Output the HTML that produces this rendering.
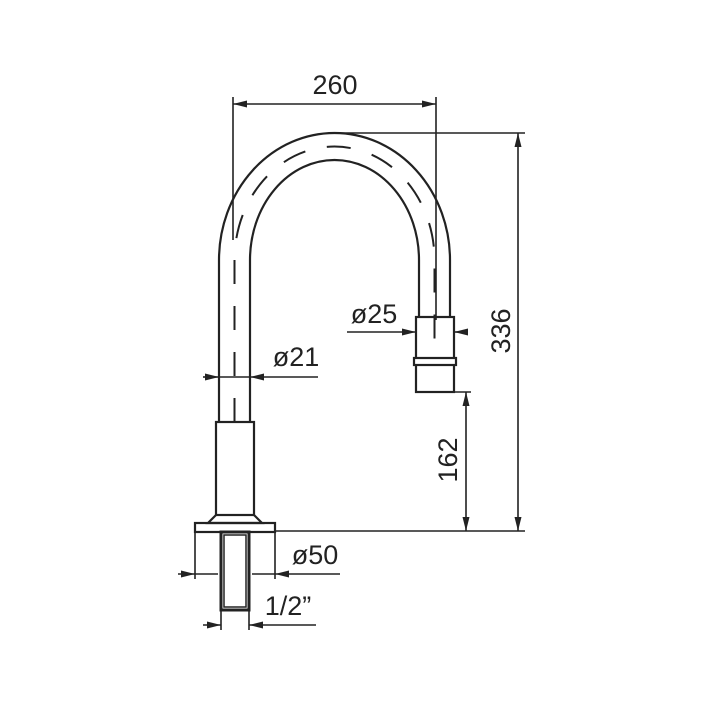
<!DOCTYPE html>
<html><head><style>html,body{margin:0;padding:0;background:#fff}svg{display:block}</style></head>
<body>
<svg width="703" height="703" viewBox="0 0 703 703" xmlns="http://www.w3.org/2000/svg">
<defs>
<marker id="a" viewBox="0 0 14 7" refX="14" refY="3.5" markerWidth="14" markerHeight="7" markerUnits="userSpaceOnUse" orient="auto-start-reverse"><path d="M0,0 L14,3.5 L0,7 Z" fill="#222"/></marker>
</defs>
<g fill="none" stroke="#222" stroke-width="2.2">
<path d="M219,422 L219,260 A115.5,127 0 0 1 450,260 L450,317"/>
<path d="M250,422 L250,260 A84.5,100 0 0 1 419,260 L419,317"/>
<path d="M234.5,422 L234.5,260 A100,113.5 0 0 1 434.5,260 L434.5,346" stroke-dasharray="24,22" stroke-width="2"/>
<rect x="416" y="317" width="38" height="75"/>
<rect x="414" y="358" width="42" height="7" fill="#fff"/>
<rect x="216" y="422" width="38" height="93"/>
<path d="M216,515 L208,523 L262,523 L254,515"/>
<rect x="195" y="523" width="80" height="9"/>
<rect x="221" y="532" width="28" height="78" stroke-width="3"/>
<rect x="224" y="535" width="22" height="72" stroke-width="1.5"/>
</g>
<g fill="none" stroke="#222" stroke-width="1.6">
<line x1="233" y1="97" x2="233" y2="240"/>
<line x1="436" y1="97" x2="436" y2="320"/>
<line x1="233" y1="104" x2="436" y2="104" marker-start="url(#a)" marker-end="url(#a)"/>
<line x1="334" y1="133" x2="525" y2="133"/>
<line x1="275" y1="531" x2="525" y2="531"/>
<line x1="518" y1="133" x2="518" y2="531" marker-start="url(#a)" marker-end="url(#a)"/>
<line x1="454" y1="392" x2="471" y2="392"/>
<line x1="466" y1="392" x2="466" y2="531" marker-start="url(#a)" marker-end="url(#a)"/>
<line x1="203" y1="377" x2="219" y2="377" marker-end="url(#a)"/>
<line x1="318" y1="377" x2="250" y2="377" marker-end="url(#a)"/>
<line x1="219" y1="377" x2="250" y2="377"/>
<line x1="347" y1="332" x2="416" y2="332" marker-end="url(#a)"/>
<line x1="468" y1="332" x2="454" y2="332" marker-end="url(#a)"/>
<line x1="195" y1="532" x2="195" y2="579"/>
<line x1="275" y1="532" x2="275" y2="579"/>
<line x1="178" y1="574" x2="195" y2="574" marker-end="url(#a)"/>
<line x1="340" y1="574" x2="275" y2="574" marker-end="url(#a)"/>
<line x1="195" y1="574" x2="218" y2="574"/>
<line x1="252" y1="574" x2="275" y2="574"/>
<line x1="221" y1="610" x2="221" y2="630"/>
<line x1="249" y1="610" x2="249" y2="630"/>
<line x1="203" y1="625" x2="221" y2="625" marker-end="url(#a)"/>
<line x1="316" y1="625" x2="249" y2="625" marker-end="url(#a)"/>
</g>
<g font-family="Liberation Sans, sans-serif" font-size="27" fill="#222" text-anchor="middle">
<text x="335" y="94">260</text>
<text x="296" y="366">ø21</text>
<text x="374" y="323">ø25</text>
<text x="315" y="564">ø50</text>
<text x="288" y="615">1/2”</text>
<text transform="translate(510,331) rotate(-90)">336</text>
<text transform="translate(457,460) rotate(-90)">162</text>
</g>
</svg>
</body></html>
